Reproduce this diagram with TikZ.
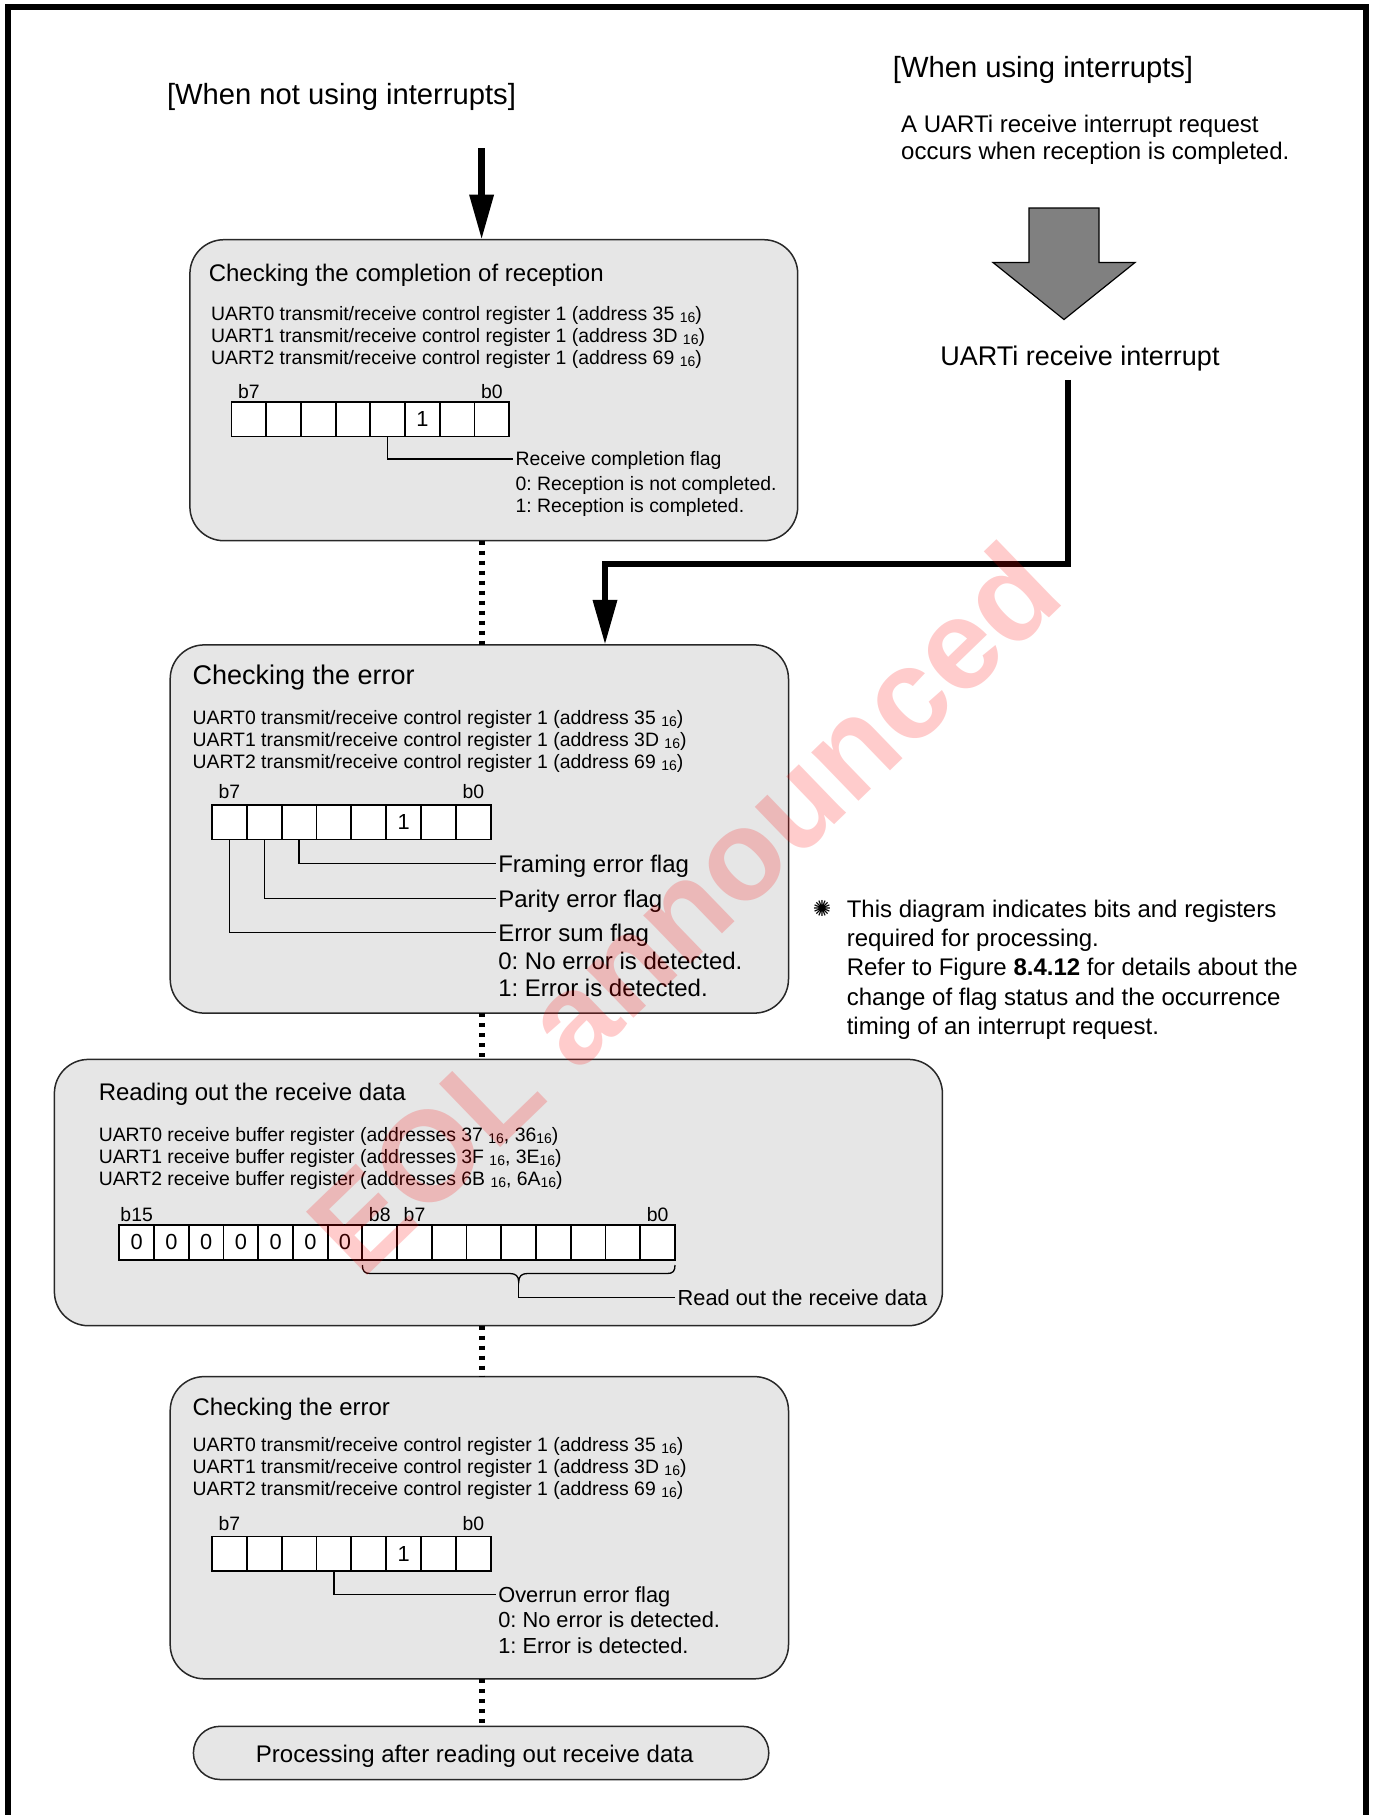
\documentclass[tikz,border=0pt]{standalone}
\usepackage{fontspec}
\usepackage{graphicx}
\setmainfont{Liberation Sans}
\newfontfamily\djv{DejaVu Sans}
\usetikzlibrary{arrows.meta,calc}
\definecolor{boxfill}{RGB}{230,230,230}
\definecolor{boxline}{RGB}{40,40,40}
\definecolor{arrowgray}{RGB}{128,128,128}
\newcommand{\hsub}[1]{\raisebox{-0.08em}{\fontsize{7}{7}\selectfont #1}}
\frenchspacing
\begin{document}
\begin{tikzpicture}[x=0.5pt,y=-0.5pt,
 outerframe/.style={line width=2.75pt},
 box/.style={draw=boxline,fill=boxfill,rounded corners=17pt,line width=0.75pt,inner sep=0pt,outer sep=0pt},
 txt/.style={anchor=west,inner sep=0pt,text depth=0pt},
 reg/.style={txt,text height=6.95pt,font=\fontsize{9.7}{11}\selectfont},
 regc/.style={reg,anchor=center},
 ttl/.style={txt,text height=8.6pt,font=\fontsize{12}{14}\selectfont},
 ttlb/.style={txt,text height=9.7pt,font=\fontsize{13.5}{16}\selectfont},
 hdr/.style={txt,anchor=center,text height=10.45pt,font=\fontsize{14.6}{17}\selectfont},
 lbl/.style={txt,inner xsep=1pt,text height=6.95pt,font=\fontsize{9.7}{11}\selectfont},
 lblm/.style={txt,inner xsep=1pt,text height=7.8pt,font=\fontsize{10.9}{13}\selectfont},
 lblb/.style={txt,inner xsep=1pt,text height=8.6pt,font=\fontsize{12}{14}\selectfont},
 cell/.style={draw,fill=white,line width=0.9pt,minimum size=17.4pt,inner sep=0pt,outer sep=0pt,font=\fontsize{10.9}{12}\selectfont},
 lead/.style={line width=0.65pt},
 dotconn/.style={line width=3pt,dash pattern=on 2pt off 3pt},
 bigarrow/.style={line width=3.25pt,-{Triangle[length=22.5pt,width=11.5pt]}},
 blockarrow/.style={draw,fill=arrowgray,line width=0.6pt,line join=miter},
]
\useasboundingbox (0,0) rectangle (1372,1815);

% outer frame (no bottom edge)
\draw[outerframe] (8,1815) -- (8,7) -- (1366,7) -- (1366,1815);

% headers
\node[hdr] (hl) at (341.5,93.8) {[When not using interrupts]};
\node[hdr] (hr) at (1043,67) {[When using interrupts]};
\node[ttl] (n1) at (900.8,123.9) {A UARTi receive interrupt request};
\node[ttl] (n2) at (900.8,150.5) {occurs when reception is completed.};

% block arrow
\draw[blockarrow] (1029,208) -- (1099,208) -- (1099,262.5) -- (1135,262.5) -- (1064,319.5) -- (993,262.5) -- (1029,262.5) -- cycle;
\node[ttlb,anchor=center] (ui) at (1080,355.4) {UARTi receive interrupt};

% boxes
\node[box,minimum width=303.9pt,minimum height=150.5pt] (B1) at (493.8,390.2) {};
\node[box,minimum width=309.15pt,minimum height=184.1pt] (B2) at (479.35,829) {};
\node[box,minimum width=444pt,minimum height=133.15pt] (B3) at (498.4,1192.55) {};
\node[box,minimum width=309.15pt,minimum height=151.1pt] (B4) at (479.35,1527.7) {};
\node[box,rounded corners=13.3pt,minimum width=287.7pt,minimum height=26.6pt] (B5) at (481.1,1752.9) {};
\node[ttl,anchor=center] (t5) at (474.7,1754) {Processing after reading out receive data};

% main flow connectors
\coordinate (xl) at (481.6,0);
\coordinate (s1) at (481.6,148);
\draw[bigarrow] (s1) -- (xl |- B1.north);
\draw[dotconn] (xl |- B1.south) -- (xl |- B2.north);
\draw[dotconn] (xl |- B2.south) -- (xl |- B3.north);
\draw[dotconn] (xl |- B3.south) -- (xl |- B4.north);
\draw[dotconn] (xl |- B4.south) -- (xl |- B5.north);

% interrupt path
\coordinate (u0) at (1068,379.8);
\coordinate (u1) at (605,563.8);
\draw[bigarrow] (u0) |- (u1) -- (u1 |- B2.north);

% ---- Box 1
\node[ttl] (t1) at (208.4,273.2) {Checking the completion of reception};
\node[reg] (r11) at (210.7,313.8) {UART0 transmit/receive control register 1 (address 35 \hsub{16})};
\node[reg] (r12) at (210.7,335.8) {UART1 transmit/receive control register 1 (address 3D \hsub{16})};
\node[reg] (r13) at (210.7,357.8) {UART2 transmit/receive control register 1 (address 69 \hsub{16})};
\foreach \i in {0,...,7} \node[cell] (p\i) at ({248.95+34.7*\i},419.15) {\ifnum\i=5 1\fi};
\node[regc] (p7l) at ($(p0.north)+(0,-10.5)$) {b7};
\node[regc] (p0l) at ($(p7.north)+(0,-10.5)$) {b0};
\node[lbl] (f11) at (513.2,459) {Receive completion flag};
\node[lbl] (f12) at (513.2,484) {0: Reception is not completed.};
\node[lbl] (f13) at (513.2,506) {1: Reception is completed.};
\draw[lead] (p4.south) |- (f11.west);

% ---- Box 2
\node[ttlb] (t2) at (192.2,675) {Checking the error};
\node[reg] (r21) at (192.2,717.8) {UART0 transmit/receive control register 1 (address 35 \hsub{16})};
\node[reg] (r22) at (192.2,739.8) {UART1 transmit/receive control register 1 (address 3D \hsub{16})};
\node[reg] (r23) at (192.2,761.8) {UART2 transmit/receive control register 1 (address 69 \hsub{16})};
\foreach \i in {0,...,7} \node[cell] (e\i) at ({229.3+34.87*\i},822) {\ifnum\i=5 1\fi};
\node[regc] (e7l) at ($(e0.north)+(0,-12.7)$) {b7};
\node[regc] (e0l) at ($(e7.north)+(0,-12.7)$) {b0};
\node[lblb] (f21) at (495.9,863.8) {Framing error flag};
\node[lblb] (f22) at (495.9,898.5) {Parity error flag};
\node[lblb] (f23) at (495.9,932.6) {Error sum flag};
\node[lblb] (f24) at (495.9,961) {0: No error is detected.};
\node[lblb] (f25) at (495.9,987.6) {1: Error is detected.};
\draw[lead] (e2.south) |- (f21.west);
\draw[lead] (e1.south) |- (f22.west);
\draw[lead] (e0.south) |- (f23.west);

% ---- Box 3
\node[ttl] (t3) at (98.4,1091.8) {Reading out the receive data};
\node[reg] (r31) at (98.4,1134.6) {UART0 receive buffer register (addresses 37 \hsub{16}, 36\hsub{16})};
\node[reg] (r32) at (98.4,1156.7) {UART1 receive buffer register (addresses 3F \hsub{16}, 3E\hsub{16})};
\node[reg] (r33) at (98.4,1178.6) {UART2 receive buffer register (addresses 6B \hsub{16}, 6A\hsub{16})};
\foreach \i in {0,...,15} \node[cell] (q\i) at ({136.67+34.73*\i},1242.35) {\ifnum\i<7 0\fi};
\node[regc] (q15l) at ($(q0.north)+(0,-10.5)$) {b15};
\node[regc] (q8l) at ($(q7.north)+(0,-10.5)$) {b8};
\node[regc] (q7l) at ($(q8.north)+(0,-10.5)$) {b7};
\node[regc] (q0l) at ($(q15.north)+(0,-10.5)$) {b0};
\draw[lead] (362.4,1265) .. controls (362.4,1271) and (364.5,1273.5) .. (370,1273.5) -- (510,1273.5) .. controls (515.5,1273.5) and (518.7,1276) .. (518.7,1282) .. controls (518.7,1276) and (521.9,1273.5) .. (527.4,1273.5) -- (667.4,1273.5) .. controls (673,1273.5) and (675,1271) .. (675,1265);
\coordinate (bm) at (518.7,1282);
\node[lblm] (rd) at (675.3,1297.6) {Read out the receive data};
\draw[lead] (bm) |- (rd.west);

% ---- Box 4
\node[ttl] (t4) at (192.2,1406.7) {Checking the error};
\node[reg] (r41) at (192.2,1444.9) {UART0 transmit/receive control register 1 (address 35 \hsub{16})};
\node[reg] (r42) at (192.2,1466.9) {UART1 transmit/receive control register 1 (address 3D \hsub{16})};
\node[reg] (r43) at (192.2,1488.9) {UART2 transmit/receive control register 1 (address 69 \hsub{16})};
\foreach \i in {0,...,7} \node[cell] (o\i) at ({229.3+34.87*\i},1553.8) {\ifnum\i=5 1\fi};
\node[regc] (o7l) at ($(o0.north)+(0,-12.7)$) {b7};
\node[regc] (o0l) at ($(o7.north)+(0,-12.7)$) {b0};
\node[lblm] (f41) at (495.9,1594.8) {Overrun error flag};
\node[lblm] (f42) at (495.9,1619.8) {0: No error is detected.};
\node[lblm] (f43) at (495.9,1645.2) {1: Error is detected.};
\draw[lead] (o3.south) |- (f41.west);

% ---- note
\node[txt,anchor=center,font=\djv\fontsize{11}{12}\selectfont] (sym) at (822,908.9) {✺};
\node[ttl] (m1) at (846.4,908.9) {This diagram indicates bits and registers};
\node[ttl] (m2) at (846.4,937.8) {required for processing.};
\node[ttl] (m3) at (846.4,966.8) {Refer to Figure {\bfseries 8.4.12} for details about the};
\node[ttl] (m4) at (846.4,996.9) {change of flag status and the occurrence};
\node[ttl] (m5) at (846.4,1025.8) {timing of an interrupt request.};

% watermark
\node[rotate=44,text=red,text opacity=0.2,inner sep=0pt,font=\bfseries\fontsize{64}{64}\selectfont] (wm) at (683,908) {EOL announced};
\end{tikzpicture}
\end{document}
